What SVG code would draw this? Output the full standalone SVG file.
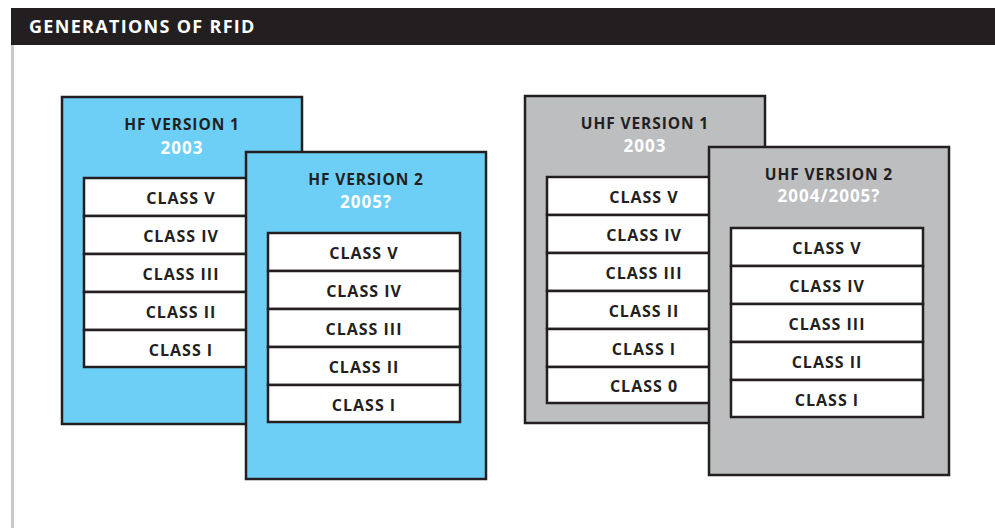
<svg xmlns="http://www.w3.org/2000/svg" width="995" height="529" viewBox="0 0 995 529">
<style>
.card{stroke:#231f20;stroke-width:2.5}
.hf{fill:#6dcff6}
.uhf{fill:#bcbec0}
.cell{fill:#ffffff;stroke:#231f20;stroke-width:2.5}
.t{font-family:"Open Sans","DejaVu Sans",sans-serif;font-weight:700;text-anchor:middle}
.title{font-size:15.5px;fill:#231f20;letter-spacing:0.9px}
.year{font-size:17px;fill:#ffffff;letter-spacing:1px}
.cls{font-size:16px;fill:#231f20;letter-spacing:1px}
</style>
<rect x="0" y="0" width="995" height="529" fill="#ffffff"/>
<g id="header">
<rect x="11" y="8" width="984" height="37" fill="#231f20"/>
<text x="29" y="33" font-family="'Open Sans','DejaVu Sans',sans-serif" font-weight="700" font-size="18" fill="#ffffff" letter-spacing="1.3">GENERATIONS OF RFID</text>
<rect x="11" y="45" width="3" height="483" fill="#c8c8c8"/>
</g>
<g id="hf-version-1">
<rect class="card hf" x="62" y="97" width="240" height="327"/>
<text class="t title" x="182" y="130">HF VERSION 1</text>
<text class="t year" x="182" y="154">2003</text>
<rect class="cell" x="84" y="178" width="194" height="38"/>
<rect class="cell" x="84" y="216" width="194" height="38"/>
<rect class="cell" x="84" y="254" width="194" height="38"/>
<rect class="cell" x="84" y="292" width="194" height="38"/>
<rect class="cell" x="84" y="330" width="194" height="37"/>
<text class="t cls" x="181" y="204">CLASS V</text>
<text class="t cls" x="181" y="242">CLASS IV</text>
<text class="t cls" x="181" y="280">CLASS III</text>
<text class="t cls" x="181" y="318">CLASS II</text>
<text class="t cls" x="181" y="356">CLASS I</text>
</g>
<g id="hf-version-2">
<rect class="card hf" x="246" y="152" width="240" height="327"/>
<text class="t title" x="366" y="185">HF VERSION 2</text>
<text class="t year" x="366" y="208">2005?</text>
<rect class="cell" x="268" y="233" width="192" height="38"/>
<rect class="cell" x="268" y="271" width="192" height="38"/>
<rect class="cell" x="268" y="309" width="192" height="38"/>
<rect class="cell" x="268" y="347" width="192" height="38"/>
<rect class="cell" x="268" y="385" width="192" height="37"/>
<text class="t cls" x="364" y="259">CLASS V</text>
<text class="t cls" x="364" y="297">CLASS IV</text>
<text class="t cls" x="364" y="335">CLASS III</text>
<text class="t cls" x="364" y="373">CLASS II</text>
<text class="t cls" x="364" y="411">CLASS I</text>
</g>
<g id="uhf-version-1">
<rect class="card uhf" x="525" y="96" width="240" height="327"/>
<text class="t title" x="645" y="129">UHF VERSION 1</text>
<text class="t year" x="645" y="152">2003</text>
<rect class="cell" x="547" y="177" width="194" height="38"/>
<rect class="cell" x="547" y="215" width="194" height="38"/>
<rect class="cell" x="547" y="253" width="194" height="38"/>
<rect class="cell" x="547" y="291" width="194" height="38"/>
<rect class="cell" x="547" y="329" width="194" height="38"/>
<rect class="cell" x="547" y="367" width="194" height="36"/>
<text class="t cls" x="644" y="203">CLASS V</text>
<text class="t cls" x="644" y="241">CLASS IV</text>
<text class="t cls" x="644" y="279">CLASS III</text>
<text class="t cls" x="644" y="317">CLASS II</text>
<text class="t cls" x="644" y="355">CLASS I</text>
<text class="t cls" x="644" y="392">CLASS 0</text>
</g>
<g id="uhf-version-2">
<rect class="card uhf" x="709" y="147" width="240" height="328"/>
<text class="t title" x="829" y="180">UHF VERSION 2</text>
<text class="t year" x="829" y="202">2004/2005?</text>
<rect class="cell" x="731" y="228" width="192" height="38"/>
<rect class="cell" x="731" y="266" width="192" height="38"/>
<rect class="cell" x="731" y="304" width="192" height="38"/>
<rect class="cell" x="731" y="342" width="192" height="38"/>
<rect class="cell" x="731" y="380" width="192" height="37"/>
<text class="t cls" x="827" y="254">CLASS V</text>
<text class="t cls" x="827" y="292">CLASS IV</text>
<text class="t cls" x="827" y="330">CLASS III</text>
<text class="t cls" x="827" y="368">CLASS II</text>
<text class="t cls" x="827" y="406">CLASS I</text>
</g>
</svg>
